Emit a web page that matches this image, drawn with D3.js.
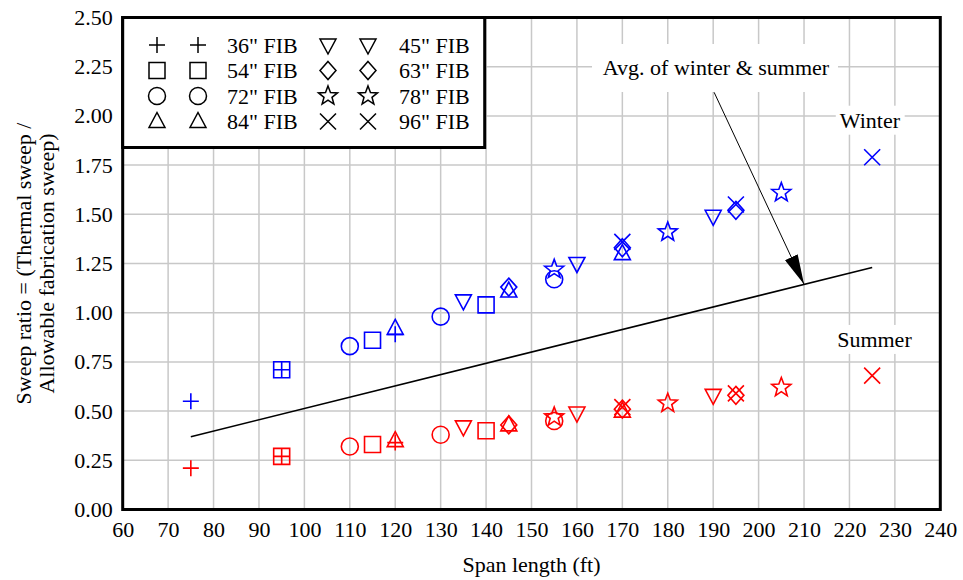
<html>
<head>
    <meta charset="utf-8">
    <title>Sweep ratio vs span length</title>
    <style>
        body { margin: 0; background: #fff; }
        svg text { font-family: "Liberation Serif", Tinos, "Times New Roman", Times, "DejaVu Serif", serif !important; fill: #000; }
    </style>
</head>
<body>
    <script src="https://cdn.jsdelivr.net/npm/d3@7/dist/d3.min.js"></script>
    <script type="text/javascript">
        // girder sizes and their spans (ft)
        var sizes = ["36\" FIB", "54\" FIB", "72\" FIB", "84\" FIB", "45\" FIB", "63\" FIB", "78\" FIB", "96\" FIB"];
        var shapes = ["plus", "square", "circle", "triangle", "triangleDown", "diamond", "star", "cross"];
        var spans = [
            [75, 95, 120],
            [95, 115, 140],
            [110, 130, 155],
            [120, 145, 170],
            [135, 160, 190],
            [145, 170, 195],
            [155, 180, 205],
            [170, 195, 225]
        ];
        var winter = [
            [0.55, 0.71, 0.89],
            [0.71, 0.86, 1.04],
            [0.83, 0.98, 1.17],
            [0.92, 1.11, 1.30],
            [1.06, 1.25, 1.49],
            [1.13, 1.33, 1.52],
            [1.22, 1.41, 1.61],
            [1.36, 1.55, 1.79]
        ];
        var summer = [
            [0.21, 0.27, 0.34],
            [0.27, 0.33, 0.40],
            [0.32, 0.38, 0.45],
            [0.35, 0.43, 0.50],
            [0.42, 0.49, 0.58],
            [0.43, 0.51, 0.58],
            [0.47, 0.54, 0.62],
            [0.52, 0.59, 0.68]
        ];
        // average line
        var avgSpan = [75, 225];
        var avgRatio = [0.37, 1.23];

        var xTicks = d3.range(60, 241, 10);
        var yTicks = [0, 0.25, 0.5, 0.75, 1.0, 1.25, 1.5, 1.75, 2.0, 2.25, 2.5];

        var width = 963, height = 580;
        var margin = { left: 122.7, right: 22.7, top: 17.5, bottom: 70.5 };

        var svg = d3.select("body").append("svg")
            .attr("width", width)
            .attr("height", height);

        var x = d3.scaleLinear().domain([60, 240]).range([margin.left, width - margin.right]);
        var y = d3.scaleLinear().domain([0, 2.5]).range([height - margin.bottom, margin.top]);

        // grid
        svg.append("g").selectAll("line").data(xTicks).enter().append("line")
            .attr("x1", d => x(d)).attr("x2", d => x(d))
            .attr("y1", y(0)).attr("y2", y(2.5))
            .style("stroke", "#c8c8c8").style("stroke-width", 1.5);
        svg.append("g").selectAll("line").data(yTicks).enter().append("line")
            .attr("y1", d => y(d)).attr("y2", d => y(d))
            .attr("x1", x(60)).attr("x2", x(240))
            .style("stroke", "#c8c8c8").style("stroke-width", 1.5);

        // tick labels
        var xAxis = svg.append("g")
            .attr("transform", "translate(0," + y(0) + ")")
            .call(d3.axisBottom(x).tickValues(xTicks).tickSize(0).tickPadding(12).tickFormat(d3.format("d")));
        var yAxis = svg.append("g")
            .attr("transform", "translate(" + x(60) + ",0)")
            .call(d3.axisLeft(y).tickValues(yTicks).tickSize(0).tickPadding(10).tickFormat(d3.format(".2f")));
        [xAxis, yAxis].forEach(function (a) {
            a.select(".domain").remove();
            a.attr("font-family", null);
            a.selectAll("text")
                .style("font-size", "22px")
                .attr("fill", "#000");
        });

        svg.append("text")
            .attr("x", (x(60) + x(240)) / 2).attr("y", 572)
            .attr("text-anchor", "middle")
            .style("font-size", "22px")
            .text("Span length (ft)");

        var yt = svg.append("text")
            .attr("transform", "translate(31," + ((y(0) + y(2.5)) / 2) + ") rotate(-90)")
            .attr("text-anchor", "middle")
            .style("font-size", "22px");
        yt.append("tspan").attr("x", 0).attr("dy", 0).text("Sweep ratio = (Thermal sweep /");
        yt.append("tspan").attr("x", 0).attr("dy", 23).text("Allowable fabrication sweep)");

        // marker shapes
        function shapePath(s) {
            var a = 8;
            if (s == "plus") return "M" + (-a) + ",0H" + a + "M0," + (-a) + "V" + a;
            if (s == "cross") return "M" + (-a) + "," + (-a) + "L" + a + "," + a + "M" + (-a) + "," + a + "L" + a + "," + (-a);
            if (s == "square") return "M-8,-8H8V8H-8Z";
            if (s == "circle") return "M8.5,0A8.5,8.5 0 1,1 -8.5,0A8.5,8.5 0 1,1 8.5,0Z";
            if (s == "triangle") return "M0,-9L8,6H-8Z";
            if (s == "triangleDown") return "M0,9L8,-6H-8Z";
            if (s == "diamond") return "M0,-9L8,0L0,9L-8,0Z";
            if (s == "star") {
                var pts = [];
                for (var k = 0; k < 10; k++) {
                    var r = k % 2 == 0 ? 10 : 4.2;
                    var ang = -Math.PI / 2 + k * Math.PI / 5;
                    pts.push([r * Math.cos(ang), r * Math.sin(ang)]);
                }
                return "M" + pts.map(p => p[0].toFixed(2) + "," + p[1].toFixed(2)).join("L") + "Z";
            }
        }

        // average line
        svg.append("line")
            .attr("x1", x(avgSpan[0])).attr("y1", y(avgRatio[0]))
            .attr("x2", x(avgSpan[1])).attr("y2", y(avgRatio[1]))
            .style("stroke", "#000").style("stroke-width", 1.6);

        // data points
        var pts = [];
        sizes.forEach(function (s, i) {
            spans[i].forEach(function (sp, j) {
                pts.push({ shape: shapes[i], span: sp, value: winter[i][j], color: "#0000ff" });
                pts.push({ shape: shapes[i], span: sp, value: summer[i][j], color: "#ff0000" });
            });
        });
        svg.append("g").selectAll("path").data(pts).enter().append("path")
            .attr("transform", d => "translate(" + x(d.span) + "," + y(d.value) + ")")
            .attr("d", d => shapePath(d.shape))
            .style("fill", "none")
            .style("stroke", d => d.color)
            .style("stroke-width", 1.6);

        // labels with white boxes
        function label(txt, cx, by) {
            var t = svg.append("text")
                .attr("x", cx).attr("y", by)
                .attr("text-anchor", "middle")
                .style("font-size", "22px")
                .text(txt);
            var b = t.node().getBBox();
            svg.insert("rect", function () { return t.node(); })
                .attr("x", b.x - 4).attr("y", b.y - 2)
                .attr("width", b.width + 8).attr("height", b.height + 4)
                .style("fill", "#fff");
            return t;
        }
        svg.append("rect")
            .attr("x", 592).attr("y", 44).attr("width", 246).attr("height", 48)
            .style("fill", "#fff");
        label("Avg. of winter & summer", 716, 75);
        label("Winter", x(224.5), y(1.94));
        label("Summer", x(225.5), y(0.826));

        // arrow
        var defs = svg.append("defs");
        defs.append("marker")
            .attr("id", "arrowhead")
            .attr("viewBox", "0 0 30 14")
            .attr("refX", 30).attr("refY", 7)
            .attr("markerWidth", 30).attr("markerHeight", 14)
            .attr("markerUnits", "userSpaceOnUse")
            .attr("orient", "auto")
            .append("path")
            .attr("d", "M0,0L30,7L0,14Z")
            .style("fill", "#000");
        svg.append("line")
            .attr("x1", x(190.2)).attr("y1", y(2.12))
            .attr("x2", x(210)).attr("y2", y(1.144))
            .style("stroke", "#000").style("stroke-width", 1)
            .attr("marker-end", "url(#arrowhead)");

        // frame
        svg.append("rect")
            .attr("x", x(60)).attr("y", y(2.5))
            .attr("width", x(240) - x(60)).attr("height", y(0) - y(2.5))
            .style("fill", "none").style("stroke", "#000").style("stroke-width", 3);

        // legend
        var leg = svg.append("g");
        leg.append("rect")
            .attr("x", x(60)).attr("y", y(2.5))
            .attr("width", 362).attr("height", 130)
            .style("fill", "#fff").style("stroke", "#000").style("stroke-width", 3);
        var legCols = [[157, 198, 227], [328, 368, 399]];
        sizes.forEach(function (s, i) {
            var col = legCols[Math.floor(i / 4)];
            var ry = 45 + (i % 4) * 25.5;
            [col[0], col[1]].forEach(function (sx) {
                leg.append("path")
                    .attr("transform", "translate(" + sx + "," + ry + ")")
                    .attr("d", shapePath(shapes[i]))
                    .style("fill", "none").style("stroke", "#000").style("stroke-width", 1.5);
            });
            leg.append("text")
                .attr("x", col[2]).attr("y", ry + 7.5)
                .style("font-size", "22px")
                .text(s);
        });
    </script>
</body>
</html>
